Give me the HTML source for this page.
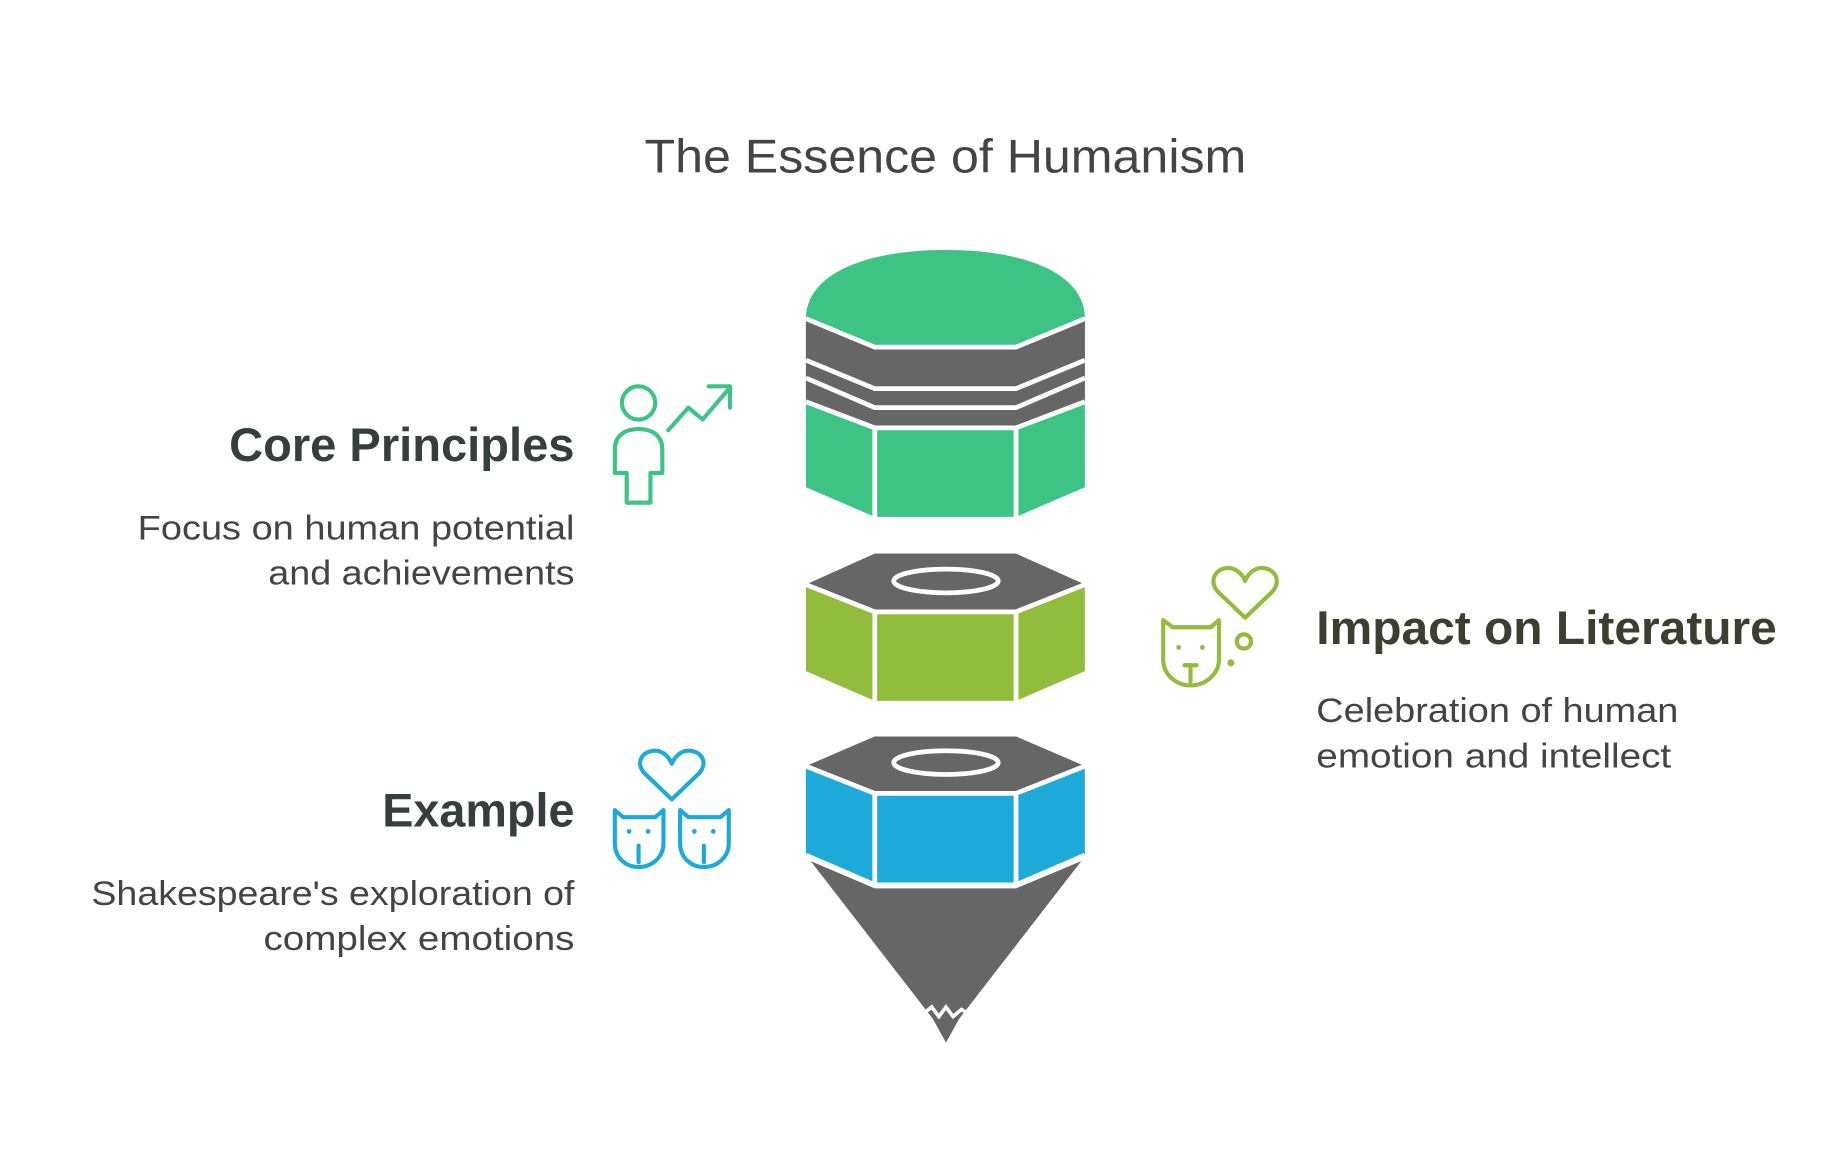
<!DOCTYPE html>
<html><head><meta charset="utf-8"><style>
html,body{margin:0;padding:0;background:#fff;}
svg{display:block;}
text{font-family:"Liberation Sans",sans-serif;}
</style></head><body>
<svg width="1835" height="1156" viewBox="0 0 1546 973" xmlns="http://www.w3.org/2000/svg">
<rect width="1546" height="973" fill="#fff"/>
<text x="543" y="145" font-size="40" fill="#444" textLength="507" lengthAdjust="spacingAndGlyphs">The Essence of Humanism</text>

<!-- top piece -->
<path d="M679,268 C679,228 735,210 797,210 C859,210 914,228 914,268 L914,410 L856,435 L737,435 L679,410 Z" fill="#3dc484"/>
<path d="M679,268 L737,292 L856,292 L914,268 L914,338 L856,360 L737,360 L679,338 Z" fill="#666"/>
<g stroke="#fff" stroke-width="4" fill="none">
<polyline points="679,268 737,292 856,292 914,268"/>
<polyline points="679,303 737,327 856,327 914,303"/>
<polyline points="679,318 737,343 856,343 914,318"/>
<polyline points="679,338 737,360 856,360 914,338"/>
<line x1="737" y1="360" x2="737" y2="437"/>
<line x1="856" y1="360" x2="856" y2="437"/>
</g>

<!-- middle piece -->
<path d="M679,492 L737,466 L856,466 L914,492 L914,565 L856,590 L737,590 L679,565 Z" fill="#92bc3b"/>
<path d="M679,492 L737,466 L856,466 L914,492 L856,515 L737,515 Z" fill="#666"/>
<g stroke="#fff" stroke-width="4" fill="none">
<polyline points="679,492 737,515 856,515 914,492"/>
<line x1="737" y1="515" x2="737" y2="592"/>
<line x1="856" y1="515" x2="856" y2="592"/>
<ellipse cx="797" cy="489" rx="44" ry="10"/>
</g>

<!-- bottom piece -->
<path d="M683,725 L737,748 L856,748 L911,725 L808,858 L797,878 L786,858 Z" fill="#666"/>
<path d="M679,645 L737,620 L856,620 L914,645 L914,720 L856,745 L737,745 L679,720 Z" fill="#1eaad9"/>
<path d="M679,645 L737,620 L856,620 L914,645 L856,668 L737,668 Z" fill="#666"/>
<g stroke="#fff" stroke-width="4" fill="none">
<polyline points="679,645 737,668 856,668 914,645"/>
<polyline points="679,720 737,745 856,745 914,720"/>
<line x1="737" y1="668" x2="737" y2="745"/>
<line x1="856" y1="668" x2="856" y2="745"/>
<ellipse cx="797" cy="642" rx="44" ry="10"/>
<polyline points="776,855 785,848 791,856 797,848 803,856 810,850 818,855" stroke-width="3"/>
</g>

<!-- text -->
<g font-weight="bold" font-size="40" fill="#34403f" lengthAdjust="spacingAndGlyphs">
<text x="193" y="388" textLength="291" lengthAdjust="spacingAndGlyphs">Core Principles</text>
<text x="322" y="696" textLength="162" lengthAdjust="spacingAndGlyphs">Example</text>
<text x="1109" y="542" fill="#3b3f30" textLength="388" lengthAdjust="spacingAndGlyphs">Impact on Literature</text>
</g>
<g font-size="29" fill="#444">
<text x="116" y="454" textLength="368" lengthAdjust="spacingAndGlyphs">Focus on human potential</text>
<text x="226" y="492" textLength="258" lengthAdjust="spacingAndGlyphs">and achievements</text>
<text x="77" y="762" textLength="407" lengthAdjust="spacingAndGlyphs">Shakespeare's exploration of</text>
<text x="222" y="800" textLength="262" lengthAdjust="spacingAndGlyphs">complex emotions</text>
<text x="1109" y="608" textLength="305" lengthAdjust="spacingAndGlyphs">Celebration of human</text>
<text x="1109" y="646" textLength="299" lengthAdjust="spacingAndGlyphs">emotion and intellect</text>
</g>

<!-- icons -->
<g fill="none" stroke="#3dc484" stroke-width="3.5" stroke-linejoin="round" stroke-linecap="round">
<circle cx="538" cy="339" r="14"/>
<path d="M528,423 L528,398 L518,398 L518,378 C518,367 526,361 538,361 C550,361 558,367 558,378 L558,398 L548,398 L548,423 Z"/>
<polyline points="563,362 580,343 592,353 615,326"/>
<polyline points="597,325 615,325 615,343"/>
</g>
<g fill="none" stroke="#92bc3b" stroke-width="3.5" stroke-linejoin="round" stroke-linecap="round">
<path d="M1049,520 L1026,498 C1018,489 1024,478 1035,478 C1042,478 1047,484 1049,489 C1051,484 1056,478 1063,478 C1074,478 1080,489 1072,498 Z"/>
<path d="M980,522 L988,528 L1020,528 L1027,522 L1027,555 C1027,568 1015,577 1003,577 C991,577 980,568 980,555 Z"/>
<line x1="1003" y1="560" x2="1003" y2="574"/>
<line x1="998" y1="560" x2="1008" y2="560"/>
<circle cx="1048" cy="540" r="6"/>
</g>
<g fill="#92bc3b"><circle cx="993" cy="545" r="2"/><circle cx="1013" cy="545" r="2"/><circle cx="1037" cy="558" r="3"/></g>
<g fill="none" stroke="#1eaad9" stroke-width="3.5" stroke-linejoin="round" stroke-linecap="round">
<path d="M566,673 L543,651 C535,642 541,632 552,632 C559,632 564,638 566,643 C568,638 573,632 580,632 C591,632 597,642 589,651 Z"/>
<path d="M518,682 L525,688 L552,688 L559,682 L559,710 C559,722 549,730 538,730 C527,730 518,722 518,710 Z"/>
<path d="M573,682 L580,688 L607,688 L614,682 L614,710 C614,722 604,730 593,730 C582,730 573,722 573,710 Z"/>
<line x1="538" y1="712" x2="538" y2="726"/><line x1="593" y1="712" x2="593" y2="726"/>
</g>
<g fill="#1eaad9"><circle cx="530" cy="700" r="2"/><circle cx="546" cy="700" r="2"/><circle cx="585" cy="700" r="2"/><circle cx="601" cy="700" r="2"/></g>
</svg>
</body></html>
